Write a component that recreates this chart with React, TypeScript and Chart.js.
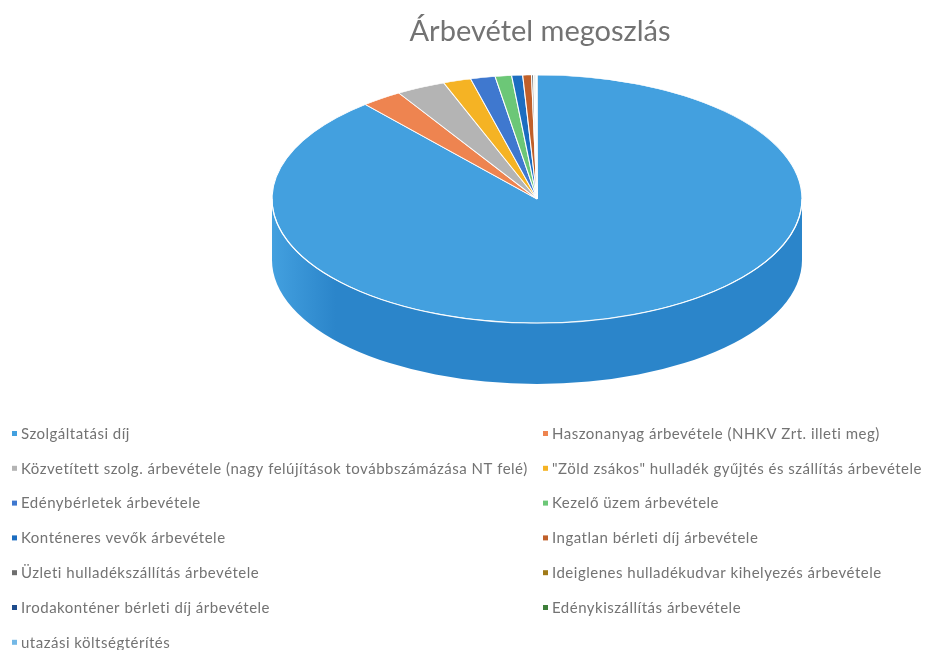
import { useEffect, useRef } from "react";
import { Chart, registerables } from "chart.js";

Chart.register(...registerables);

const titleText = "Árbevétel megoszlás";

const categories = [
  "Szolgáltatási díj",
  "Haszonanyag árbevétele (NHKV Zrt. illeti meg)",
  "Közvetített szolg. árbevétele (nagy felújítások továbbszámázása NT felé)",
  "\"Zöld zsákos\" hulladék gyűjtés és szállítás árbevétele",
  "Edénybérletek árbevétele",
  "Kezelő üzem árbevétele",
  "Konténeres vevők árbevétele",
  "Ingatlan bérleti díj árbevétele",
  "Üzleti hulladékszállítás árbevétele",
  "Ideiglenes hulladékudvar kihelyezés árbevétele",
  "Irodakonténer bérleti díj árbevétele",
  "Edénykiszállítás árbevétele",
  "utazási költségtérítés",
];

const values = [88.9, 2.5, 3.0, 1.7, 1.5, 1.0, 0.67, 0.53, 0.12, 0.08, 0.05, 0.05, 0.03];

const colors = [
  "#43A0DF",
  "#EE8450",
  "#B4B4B4",
  "#F5B324",
  "#3F78CF",
  "#6CC777",
  "#1C6DC0",
  "#C0602A",
  "#6E6E6E",
  "#A07A18",
  "#1E4C8C",
  "#3E7F3A",
  "#74B8E6",
];

const sideColors = [
  "#2B85CA",
  "#C8622F",
  "#8F8F8F",
  "#CC9212",
  "#2D5DAA",
  "#4FA35A",
  "#15548F",
  "#97461C",
  "#555555",
  "#7C5E10",
  "#163A6C",
  "#2E5F2B",
  "#5C9FCC",
];

// geometry of the drawn 3D pie
const CX = 537;
const CY = 199;
const RX = 265;
const RY = 124;
const DEPTH = 61;

const FONT = "Lato, 'Open Sans', sans-serif";

const pie3d = {
  id: "pie3d",
  beforeDatasetsDraw(chart: any) {
    const meta = chart.getDatasetMeta(0);
    const arcs = meta.data;
    if (!arcs.length) return;
    const ctx: CanvasRenderingContext2D = chart.ctx;
    const p = arcs[0].getProps(["x", "y", "outerRadius"], true);
    const k = RX / p.outerRadius;
    // side walls (front half only)
    arcs.forEach((arc: any, i: number) => {
      const { startAngle, endAngle } = arc.getProps(["startAngle", "endAngle"], true);
      for (const off of [-2 * Math.PI, 0, 2 * Math.PI]) {
        const s = Math.max(startAngle + off, 0);
        const e = Math.min(endAngle + off, Math.PI);
        if (e > s) {
          const g = ctx.createLinearGradient(CX - RX, 0, CX + RX, 0);
          g.addColorStop(0, colors[i]);
          g.addColorStop(0.12, sideColors[i]);
          g.addColorStop(1, sideColors[i]);
          ctx.save();
          ctx.beginPath();
          ctx.ellipse(CX, CY, RX, RY, 0, s, e, false);
          ctx.ellipse(CX, CY + DEPTH, RX, RY, 0, e, s, true);
          ctx.closePath();
          ctx.fillStyle = g;
          ctx.fill();
          ctx.restore();
        }
      }
    });
    ctx.save();
    ctx.translate(CX, CY);
    ctx.scale(k, k * (RY / RX));
    ctx.translate(-p.x, -p.y);
  },
  afterDatasetsDraw(chart: any) {
    const ctx: CanvasRenderingContext2D = chart.ctx;
    ctx.restore();
    // white rim between top face and side
    ctx.save();
    ctx.beginPath();
    ctx.ellipse(CX, CY, RX, RY, 0, 0, Math.PI, false);
    ctx.strokeStyle = "rgba(255,255,255,0.9)";
    ctx.lineWidth = 1.2;
    ctx.stroke();
    ctx.restore();
  },
};

const legend2col = {
  id: "legend2col",
  afterDraw(chart: any) {
    const ctx: any = chart.ctx;
    ctx.save();
    ctx.font = `15px ${FONT}`;
    ctx.letterSpacing = "0.5px";
    ctx.textBaseline = "middle";
    categories.forEach((label, i) => {
      const col = i % 2;
      const row = Math.floor(i / 2);
      const y = 434 + row * 34.8;
      const tw = ctx.measureText(label).width;
      const x = col === 0 ? 12 : Math.min(543, chart.width - 3 - (tw + 8));
      ctx.fillStyle = colors[i];
      ctx.fillRect(x, y - 3, 5, 5);
      ctx.fillStyle = "#737373";
      ctx.fillText(label, x + 9, y);
    });
    ctx.restore();
  },
};

export default function App() {
  const ref = useRef<HTMLCanvasElement | null>(null);

  useEffect(() => {
    document.body.style.margin = "0";
    const canvas = ref.current;
    if (!canvas) return;
    const chart = new Chart(canvas, {
      type: "pie",
      data: {
        labels: categories,
        datasets: [
          {
            data: values,
            backgroundColor: colors,
            borderColor: "#ffffff",
            borderWidth: 1,
            clip: false as any,
          },
        ],
      },
      options: {
        responsive: false,
        animation: false,
        devicePixelRatio: 1,
        layout: { padding: { left: 146, right: 0, top: 0, bottom: 100 } },
        plugins: {
          legend: { display: false },
          tooltip: { enabled: false },
          title: {
            display: true,
            text: titleText,
            color: "#737373",
            font: { family: FONT, size: 29, weight: "normal" },
            padding: { top: 14, bottom: 10 },
          },
        },
      },
      plugins: [pie3d, legend2col],
    });
    return () => chart.destroy();
  }, []);

  return (
    <div style={{ width: 934, height: 650, background: "#ffffff" }}>
      <canvas ref={ref} width={934} height={650} style={{ display: "block" }} />
    </div>
  );
}
